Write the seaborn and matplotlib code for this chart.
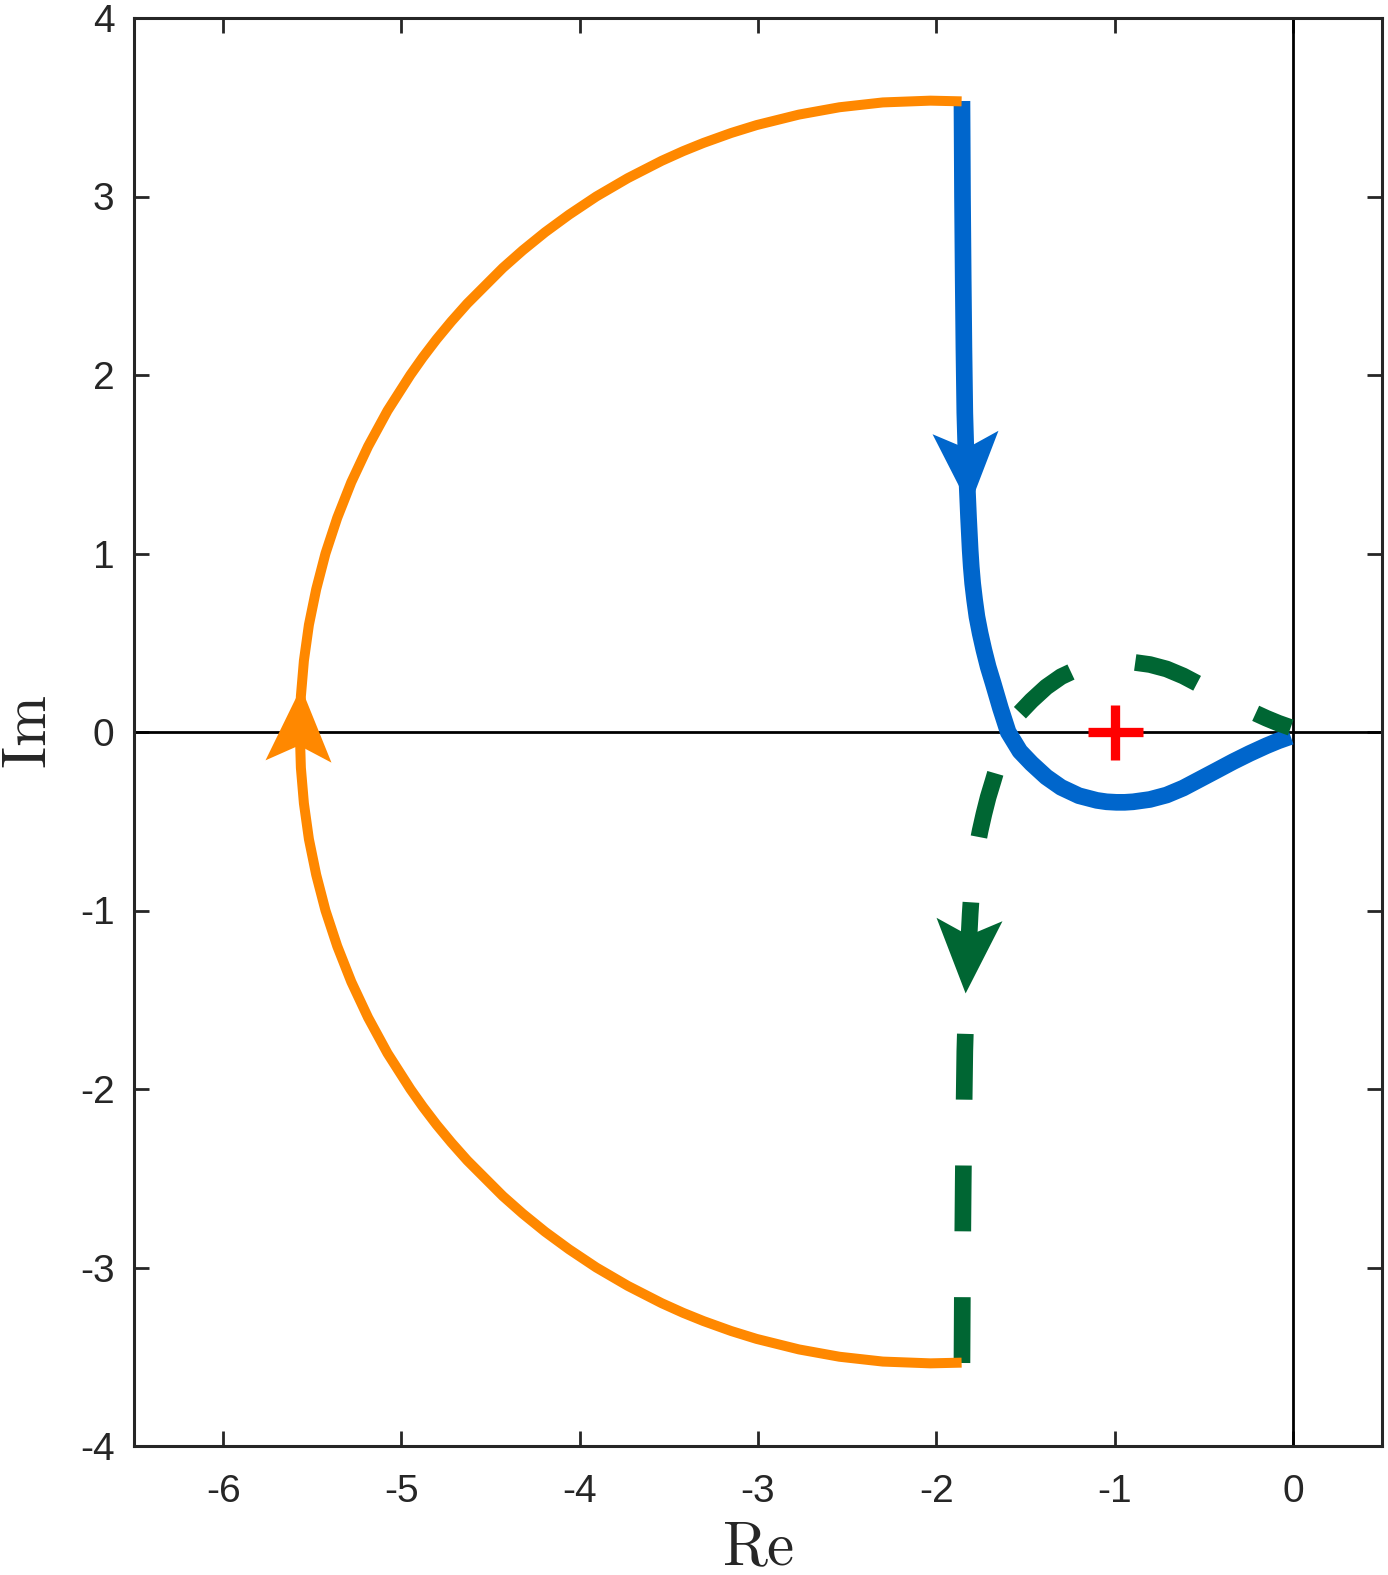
import matplotlib
matplotlib.use("Agg")
import matplotlib.pyplot as plt
from matplotlib.path import Path
from matplotlib.markers import MarkerStyle
from matplotlib.transforms import Affine2D
import seaborn as sns
import pandas as pd

# Nyquist branch for w > 0 (blue), top end -> origin
blue_re = [-1.856, -1.853, -1.849, -1.845, -1.840, -1.834, -1.827, -1.819, -1.810,
           -1.804, -1.796, -1.785, -1.772, -1.754, -1.733, -1.709, -1.681, -1.640,
           -1.597, -1.531, -1.466, -1.383, -1.300, -1.200, -1.100, -1.045, -0.990,
           -0.943, -0.896, -0.802, -0.708, -0.615, -0.522, -0.429, -0.335, -0.242,
           -0.148, -0.080, -0.012]
blue_im = [3.535, 3.000, 2.534, 2.150, 1.788, 1.580, 1.385, 1.200, 1.020,
           0.927, 0.833, 0.740, 0.646, 0.553, 0.460, 0.365, 0.273, 0.133,
           0.000, -0.108, -0.176, -0.252, -0.310, -0.357, -0.383, -0.391, -0.394,
           -0.394, -0.391, -0.378, -0.353, -0.314, -0.265, -0.216, -0.166, -0.120,
           -0.077, -0.049, -0.025]

# w < 0 branch (green, dashed): mirror image, listed from the bottom end up
green_re = list(blue_re)
green_im = [-v for v in blue_im]

# large arc (orange): upper half from the top end to the real axis
arc_re_upper = [-1.858, -2.033, -2.300, -2.543, -2.770, -3.008, -3.150, -3.306, -3.420,
                -3.540, -3.730, -3.907, -4.060, -4.194, -4.320, -4.431, -4.631, -4.720,
                -4.803, -4.880, -4.950, -5.078, -5.187, -5.281, -5.360, -5.426, -5.478,
                -5.519, -5.547, -5.564, -5.570]
arc_im_upper = [3.533, 3.537, 3.527, 3.500, 3.459, 3.400, 3.356, 3.300, 3.254,
                3.200, 3.103, 3.000, 2.898, 2.800, 2.698, 2.600, 2.400, 2.300,
                2.200, 2.099, 2.000, 1.800, 1.600, 1.400, 1.200, 1.000, 0.800,
                0.600, 0.400, 0.200, 0.000]
arc_re = arc_re_upper[:-1] + arc_re_upper[::-1]
arc_im = [-v for v in arc_im_upper][:-1] + arc_im_upper[::-1]

# arrow heads (centre of the wing line) and the critical point
arrow_re = [-1.838, -1.816, -5.580]
arrow_im = [1.680, -1.047, -0.160]
arrow_rot = [183, 177, -2]
crit_re, crit_im = [-1.0], [0.0]

blue_c = "#0066CC"
green_c = "#006633"
orange_c = "#FF8800"

sns.set_theme(style="white")
plt.rcParams["font.family"] = ["Liberation Sans", "DejaVu Sans"]
plt.rcParams["mathtext.fontset"] = "cm"
plt.rcParams["axes.unicode_minus"] = False

fig = plt.figure(figsize=(13.88, 15.75), dpi=100)
ax = fig.add_axes([134 / 1388, 1 - 1446 / 1575, 1248 / 1388, 1428 / 1575])

ax.axhline(0, color="black", lw=2.0, zorder=1)
ax.axvline(0, color="black", lw=2.0, zorder=1)

df_blue = pd.DataFrame({"re": blue_re, "im": blue_im})
df_green = pd.DataFrame({"re": green_re, "im": green_im})
df_arc = pd.DataFrame({"re": arc_re, "im": arc_im})

sns.lineplot(data=df_blue, x="re", y="im", sort=False, estimator=None, ax=ax,
             color=blue_c, lw=12, solid_capstyle="butt", solid_joinstyle="round", zorder=2)
sns.lineplot(data=df_green, x="re", y="im", sort=False, estimator=None, ax=ax,
             color=green_c, lw=12, linestyle=(0, (3.95, 3.95)),
             dash_capstyle="butt", dash_joinstyle="round", zorder=3)
sns.lineplot(data=df_arc, x="re", y="im", sort=False, estimator=None, ax=ax,
             color=orange_c, lw=7.2, solid_capstyle="butt", solid_joinstyle="round", zorder=4)

head = Path([(0, 74), (33, 0), (0, 16), (-33, 0), (0, 74)],
            [Path.MOVETO, Path.LINETO, Path.LINETO, Path.LINETO, Path.CLOSEPOLY])
for x, y, r, c in zip(arrow_re, arrow_im, arrow_rot, [blue_c, green_c, orange_c]):
    m = MarkerStyle(head, transform=Affine2D().rotate_deg(r))
    ax.plot([x], [y], marker=m, markersize=106.6, color=c, markeredgewidth=0,
            linestyle="none", zorder=5)

ax.plot(crit_re, crit_im, marker="+", markersize=39.6, markeredgewidth=6.7,
        color="#FF0000", linestyle="none", zorder=6)

ax.set_xlim(-6.5, 0.5)
ax.set_ylim(-4, 4)
ax.set_xticks(range(-6, 1))
ax.set_yticks(range(-4, 5))
ax.tick_params(direction="in", length=10.8, width=2.0, colors="#262626",
               labelsize=28, top=True, right=True, bottom=True, left=True)
ax.tick_params(axis="x", pad=20)
ax.tick_params(axis="y", pad=14)
for s in ax.spines.values():
    s.set_color("#262626")
    s.set_linewidth(2.2)

ax.set_xlabel(r"$\mathrm{Re}$", fontsize=44, color="#262626", labelpad=8)
ax.set_ylabel(r"$\mathrm{Im}$", fontsize=44, color="#262626", labelpad=15)

fig.savefig("out.png", dpi=100)
